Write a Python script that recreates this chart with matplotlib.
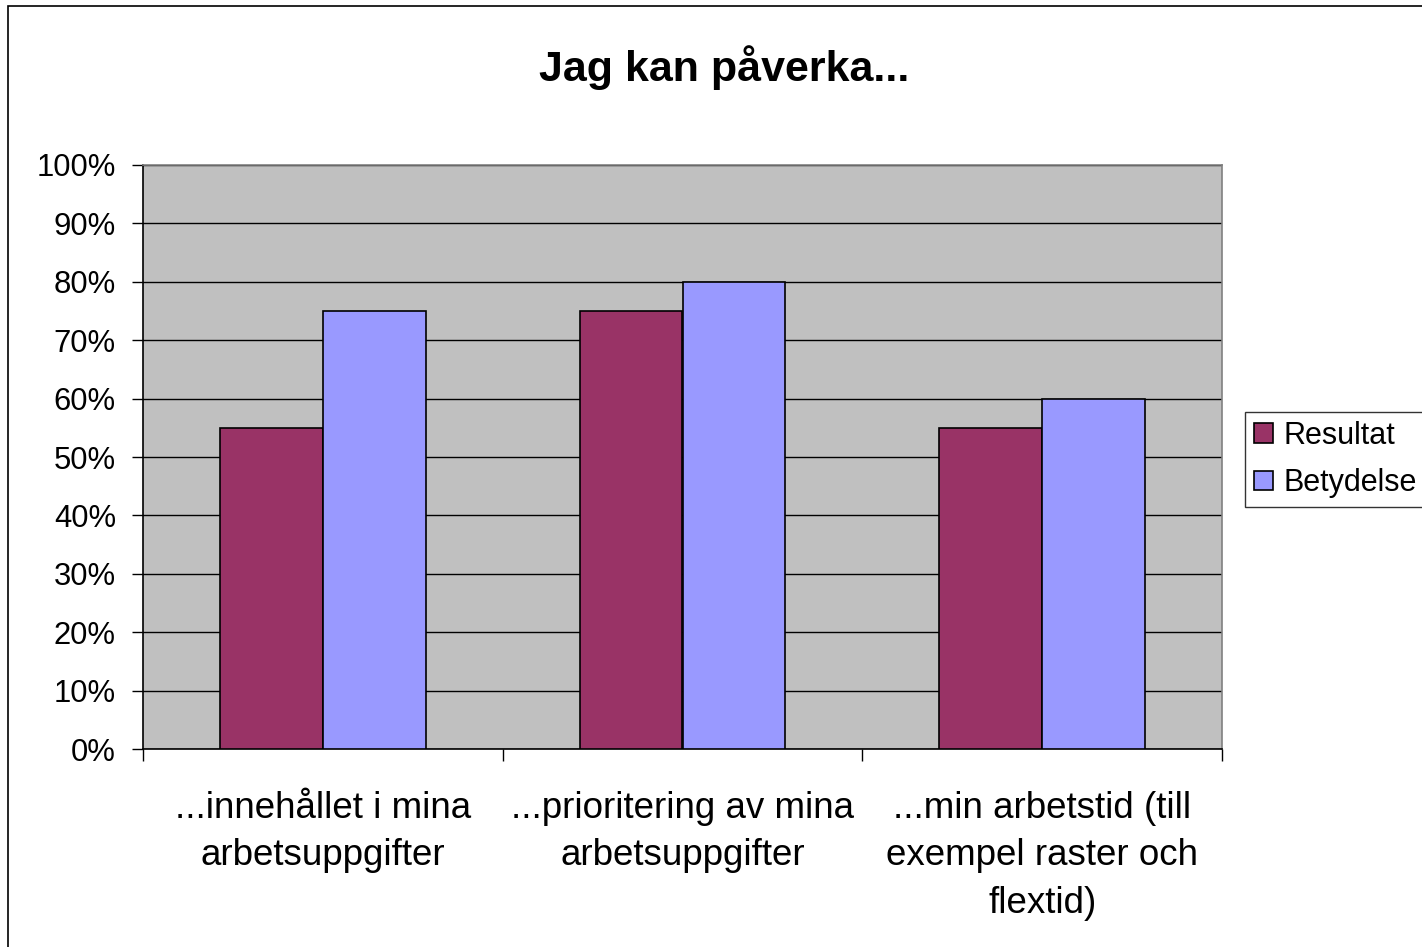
import matplotlib
matplotlib.use("Agg")
import matplotlib.pyplot as plt
import numpy as np
from matplotlib.patches import Rectangle
from matplotlib.ticker import FixedLocator, PercentFormatter

plt.rcParams['font.family'] = ['Liberation Sans', 'DejaVu Sans']

title = "Jag kan påverka..."
categories = ["...innehållet i mina\narbetsuppgifter",
              "...prioritering av mina\narbetsuppgifter",
              "...min arbetstid (till\nexempel raster och\nflextid)"]
series_names = ["Resultat", "Betydelse"]
resultat = [55, 75, 55]
betydelse = [75, 80, 60]
colors = ["#993366", "#9999FF"]

fig = plt.figure(figsize=(14.22, 9.47), dpi=100)
fig.patches.append(Rectangle((8/1422, -0.1), 1.2, 1 - 6/947 + 0.1, transform=fig.transFigure,
                             fill=False, edgecolor='black', linewidth=1.2))

ax = fig.add_axes([143/1422, 1 - 749/947, 1079/1422, 584/947])
ax.set_facecolor("#C0C0C0")

x = np.arange(len(categories))
w = 1 / 3.5
ax.bar(x - w/2, resultat, width=w, color=colors[0], edgecolor='black', linewidth=1.2,
       label=series_names[0], zorder=3)
ax.bar(x + w/2, betydelse, width=w, color=colors[1], edgecolor='black', linewidth=1.2,
       label=series_names[1], zorder=3)

ax.set_xlim(-0.5, len(categories) - 0.5)
ax.set_ylim(0, 100)
ax.set_yticks(np.arange(0, 101, 10))
ax.yaxis.set_major_formatter(PercentFormatter(decimals=0))
ax.yaxis.grid(True, color='black', linewidth=1.0, zorder=1)
ax.set_axisbelow(True)

ax.set_xticks(x)
ax.set_xticklabels(categories, fontsize=26.5, linespacing=1.47)
ax.xaxis.set_minor_locator(FixedLocator(np.arange(-0.5, len(categories), 1)))
ax.tick_params(axis='x', which='major', length=0, pad=30)
ax.tick_params(axis='x', which='minor', length=8.6, width=1, color='black', direction='out')
ax.tick_params(axis='y', length=8, width=1, direction='out', labelsize=22.3, pad=11.5)

for s in ['left', 'bottom']:
    ax.spines[s].set_color('black')
    ax.spines[s].set_linewidth(1.2)
for s in ['top', 'right']:
    ax.spines[s].set_color('#808080')
    ax.spines[s].set_linewidth(1.2)

fig.text(0.5095, 1 - 68/947, title, ha='center', va='center', fontsize=31, fontweight='bold')

leg = ax.legend(loc='center left', bbox_to_anchor=(1245/1422, 1 - 459.5/947),
                bbox_transform=fig.transFigure, fontsize=22, frameon=True, fancybox=False,
                handlelength=0.6, handleheight=0.6, handletextpad=0.35, borderpad=0.3,
                labelspacing=0.56, borderaxespad=0)
leg.get_frame().set_edgecolor('black')
leg.get_frame().set_linewidth(1.0)

fig.savefig("out.png", dpi=100)
